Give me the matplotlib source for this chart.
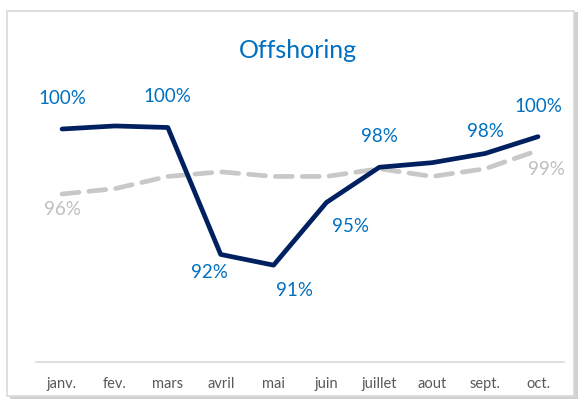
import matplotlib.pyplot as plt
from matplotlib.patches import FancyBboxPatch

months = ['janv.', 'fev.', 'mars', 'avril', 'mai', 'juin', 'juillet', 'aout', 'sept.', 'oct.']
offshoring = [100.0, 100.2, 100.1, 91.8, 91.1, 95.2, 97.5, 97.8, 98.4, 99.5]
target = [95.75, 96.1, 96.9, 97.2, 96.9, 96.9, 97.4, 96.9, 97.4, 98.6]

# which points get a label, and where (dx, dy in points)
navy_labels = {0: (0, 22), 2: (0, 22), 3: (-8, -13), 4: (15, -18), 5: (17, -17),
               6: (0, 22), 8: (0, 16), 9: (0, 22)}
gray_labels = {0: (0, -11), 9: (6, -14)}

plt.rcParams['font.family'] = ['Lato', 'DejaVu Sans']

fig = plt.figure(figsize=(5.82, 4.04), dpi=100)

# chart frame with a soft shadow
shadow = FancyBboxPatch((0.018, 0.012), 0.975, 0.958, boxstyle='square,pad=0',
                        transform=fig.transFigure, facecolor='#d0d0d0', edgecolor='none',
                        zorder=-10)
frame = FancyBboxPatch((0.012, 0.02), 0.975, 0.952, boxstyle='square,pad=0',
                       transform=fig.transFigure, facecolor='white', edgecolor='#d9d9d9',
                       lw=1.2, zorder=-9)
fig.patches.extend([shadow, frame])

ax = fig.add_axes([0.0612, 0.104, 0.9086, 0.7228])
ax.set_facecolor('none')
x = list(range(len(months)))

ax.plot(x, target, color='#c8c8c8', lw=3.4, dashes=(3.6, 2.1), solid_capstyle='round',
        dash_capstyle='round', zorder=2)
ax.plot(x, offshoring, color='#002060', lw=3.4, solid_capstyle='round', zorder=3)

for i, (dx, dy) in navy_labels.items():
    ax.annotate(f'{round(offshoring[i]):.0f}%', (x[i], offshoring[i]), xytext=(dx, dy),
                textcoords='offset points', ha='center', va='center', color='#0070c0',
                fontsize=13.5)
for i, (dx, dy) in gray_labels.items():
    ax.annotate(f'{round(target[i]):.0f}%', (x[i], target[i]), xytext=(dx, dy),
                textcoords='offset points', ha='center', va='center', color='#bfbfbf',
                fontsize=13.5)

ax.set_xlim(-0.5, 9.5)
ax.set_ylim(84.77, 103.86)
ax.set_xticks(x)
ax.set_xticklabels(months, color='#595959', fontsize=10.5)
ax.tick_params(axis='x', length=0, pad=11)
ax.set_yticks([])
for side in ['top', 'left', 'right']:
    ax.spines[side].set_visible(False)
ax.spines['bottom'].set_color('#d9d9d9')
ax.spines['bottom'].set_linewidth(1.2)

fig.text(0.512, 0.876, 'Offshoring', ha='center', va='center', color='#0070c0', fontsize=18)

fig.savefig('out.png', dpi=100)
